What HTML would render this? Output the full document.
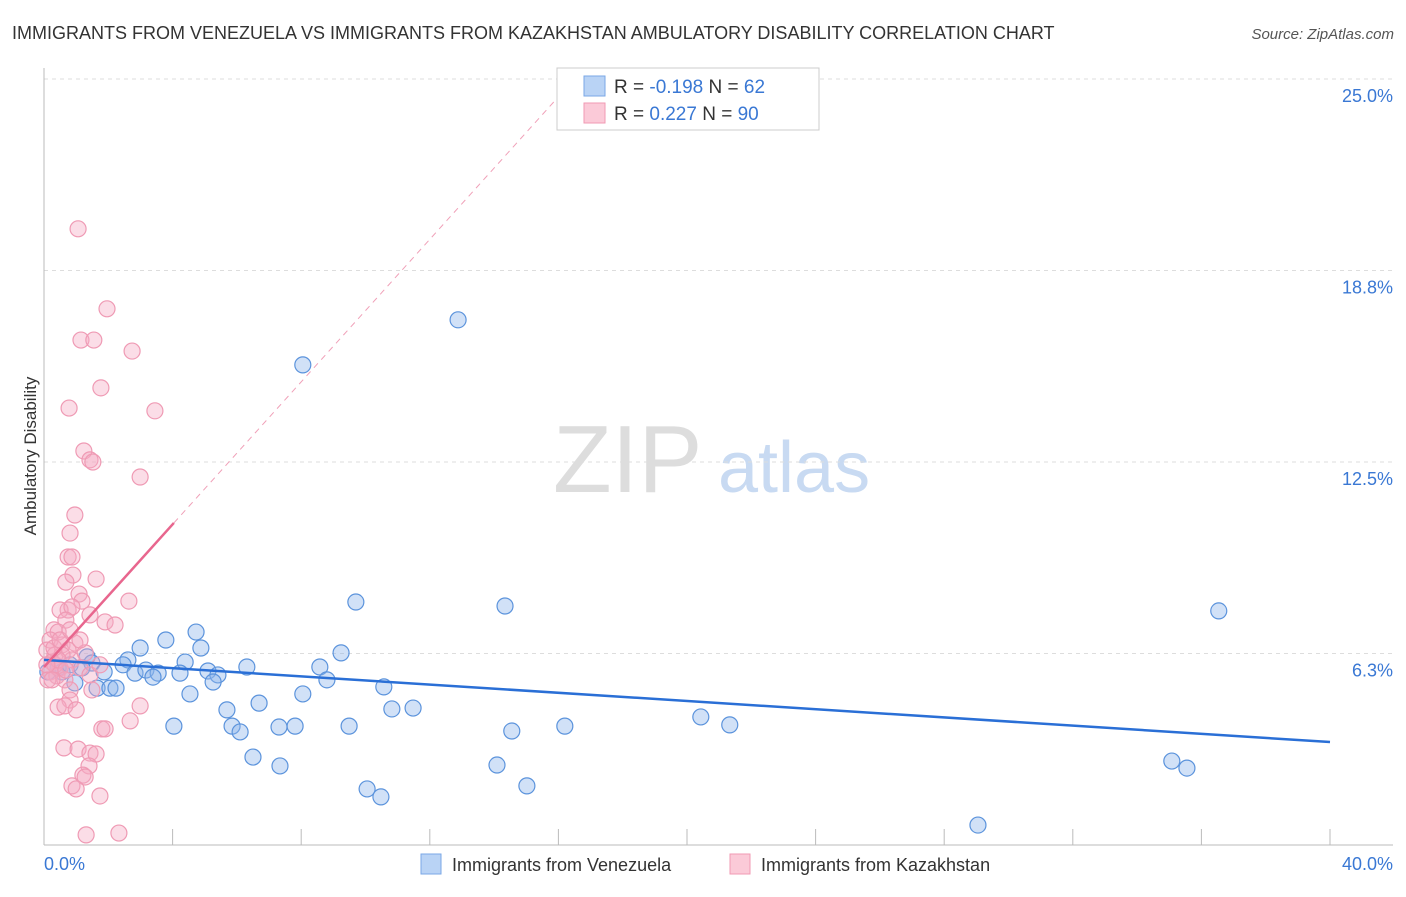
<!DOCTYPE html>
<html><head><meta charset="utf-8"><style>
body{margin:0;background:#fff;font-family:"Liberation Sans",sans-serif;}
svg text{font-family:"Liberation Sans",sans-serif;}
</style></head><body>
<svg id="chart" width="1406" height="892" xmlns="http://www.w3.org/2000/svg">
<text x="12" y="39" font-size="18" fill="#333">IMMIGRANTS FROM VENEZUELA VS IMMIGRANTS FROM KAZAKHSTAN AMBULATORY DISABILITY CORRELATION CHART</text>
<text x="1394" y="39" font-size="15" fill="#555" font-style="italic" text-anchor="end">Source: ZipAtlas.com</text>
<g>
<text x="553" y="492" font-size="96" fill="#ddd" font-family="Liberation Serif">ZIP</text>
<text x="718" y="492" font-size="72" fill="#c8daf2">atlas</text>
</g>
<g id="grid"></g>
<g id="axes"></g>
<g id="blue"></g>
<g id="pink"></g>
<g id="lines"></g>
<text x="36" y="456" font-size="17" fill="#333" text-anchor="middle" transform="rotate(-90 36 456)">Ambulatory Disability</text>
<text x="44" y="870" font-size="18" fill="#3a78d4">0.0%</text>
<text x="1393" y="870" font-size="18" fill="#3a78d4" text-anchor="end">40.0%</text>
<g>
<rect x="421" y="854" width="20" height="20" fill="#b9d3f5" stroke="#7aa7e6"/>
<text x="452" y="871" font-size="18" fill="#333">Immigrants from Venezuela</text>
<rect x="730" y="854" width="20" height="20" fill="#fbcad8" stroke="#f09ab3"/>
<text x="761" y="871" font-size="18" fill="#333">Immigrants from Kazakhstan</text>
</g>
<g>
<rect x="557" y="68" width="262" height="62" fill="#fff" stroke="#ccc"/>
<rect x="584" y="76" width="21" height="20" fill="#b9d3f5" stroke="#7aa7e6"/>
<text x="614" y="93" font-size="19" fill="#333">R = <tspan fill="#3a78d4">-0.198</tspan>   N = <tspan fill="#3a78d4">62</tspan></text>
<rect x="584" y="103" width="21" height="20" fill="#fbcad8" stroke="#f09ab3"/>
<text x="614" y="120" font-size="19" fill="#333">R =  <tspan fill="#3a78d4">0.227</tspan>   N = <tspan fill="#3a78d4">90</tspan></text>
</g>
</svg>
<script>
const yTicks=[25,18.75,12.5,6.25];
const yTickLabels=["25.0%","18.8%","12.5%","6.3%"];
const xTicks=[0,4,8,12,16,20,24,28,32,36,40];
const blueX=[12.88,8.05,9.70,14.34,36.54,3.79,4.73,2.99,4.88,9.24,2.61,1.34,1.49,2.46,4.39,6.31,8.58,1.87,2.83,3.17,3.55,3.39,4.23,5.10,5.41,5.26,8.80,0.96,1.65,2.05,2.24,4.54,8.05,10.57,6.69,5.69,10.82,11.48,4.04,5.85,6.10,7.31,7.81,9.49,14.55,16.20,20.43,21.33,6.50,7.34,14.09,15.02,10.05,10.48,35.08,35.55,29.05,0.44,0.56,0.81,1.18,0.12];
const blueY=[17.14,15.67,7.93,7.80,7.64,6.69,6.95,6.43,6.43,6.27,6.04,6.14,5.94,5.88,5.97,5.81,5.81,5.65,5.61,5.71,5.61,5.48,5.61,5.68,5.55,5.32,5.39,5.29,5.12,5.12,5.12,4.93,4.93,5.16,4.63,4.41,4.44,4.47,3.88,3.88,3.69,3.85,3.88,3.88,3.72,3.88,4.18,3.92,2.87,2.58,2.61,1.93,1.83,1.57,2.74,2.51,0.65,5.78,5.65,5.88,5.78,5.65];
const pinkX=[1.06,1.96,1.15,1.55,2.74,1.77,0.78,3.45,1.24,1.43,1.52,2.99,0.96,0.81,0.75,0.87,0.90,0.68,1.62,1.09,1.18,0.75,0.50,0.87,1.43,2.64,1.90,2.21,0.68,0.31,0.44,0.19,0.56,0.96,0.09,0.34,0.75,1.28,0.25,0.50,0.87,0.19,0.40,0.65,0.12,1.12,1.43,1.74,1.49,0.81,2.99,0.81,0.44,0.65,1.00,2.68,1.80,1.90,0.62,1.06,1.43,1.62,1.40,1.21,1.28,0.87,1.00,1.74,1.31,2.33,0.34,0.56,0.44,0.68,0.31,0.09,0.50,0.81,1.12,0.25];
const pinkY=[20.11,17.50,16.48,16.48,16.12,14.92,14.26,14.17,12.86,12.57,12.50,12.01,10.77,10.18,9.40,9.40,8.81,8.58,8.68,8.19,7.96,7.67,7.67,7.77,7.51,7.96,7.28,7.18,7.34,7.02,6.95,6.69,6.53,6.59,6.36,6.20,6.36,6.27,5.97,5.78,6.04,5.65,5.52,5.39,5.39,5.78,5.55,5.88,5.06,5.06,4.54,4.73,4.50,4.54,4.41,4.05,3.79,3.79,3.17,3.13,3.00,2.97,2.58,2.28,2.22,1.93,1.83,1.60,0.33,0.39,5.88,6.20,6.04,5.71,6.43,5.88,6.69,7.02,6.69,5.39];
const blueTrend=[[0,6.04],[40,3.36]];
const pinkTrendSolid=[[0,5.81],[4.04,10.51]];
const pinkTrendDash=[[4.04,10.51],[16.5,25]];
const NS="http://www.w3.org/2000/svg";
const X=v=>44+v/40*1286;
const Y=v=>845-v/6.25*191.5;
function mk(tag,attrs,parent){const e=document.createElementNS(NS,tag);for(const k in attrs)e.setAttribute(k,attrs[k]);document.getElementById(parent).appendChild(e);return e;}
yTicks.forEach((t,i)=>{
 const g=mk('line',{x1:44,x2:1393,y1:Y(t),y2:Y(t),stroke:'#ddd','stroke-dasharray':'4,4'},'grid');
 
 
 const tx=mk('text',{x:1393,y:Y(t)+23,'font-size':18,fill:'#3a78d4','text-anchor':'end'},'grid');
 tx.textContent=yTickLabels[i];
 
 
});
let a=mk('line',{x1:44,x2:44,y1:68,y2:845,stroke:'#bbb'},'axes');


a=mk('line',{x1:44,x2:1393,y1:845,y2:845,stroke:'#bbb'},'axes');


xTicks.forEach(t=>{
 const l=mk('line',{x1:X(t),x2:X(t),y1:829,y2:845,stroke:'#bbb'},'axes');
 
 
});
blueX.forEach((v,i)=>{
 const c=mk('circle',{cx:X(v),cy:Y(blueY[i]),r:8,fill:'rgba(140,180,236,0.4)',stroke:'#5b93dc','stroke-width':1.2},'blue');
 
 
});
pinkX.forEach((v,i)=>{
 const c=mk('circle',{cx:X(v),cy:Y(pinkY[i]),r:8,fill:'rgba(246,170,195,0.4)',stroke:'#ef9ab4','stroke-width':1.2},'pink');
 
 
});
let t=mk('line',{x1:X(blueTrend[0][0]),y1:Y(blueTrend[0][1]),x2:X(blueTrend[1][0]),y2:Y(blueTrend[1][1]),stroke:'#2a6fd6','stroke-width':2.5},'lines');


t=mk('line',{x1:X(pinkTrendSolid[0][0]),y1:Y(pinkTrendSolid[0][1]),x2:X(pinkTrendSolid[1][0]),y2:Y(pinkTrendSolid[1][1]),stroke:'#e8668e','stroke-width':2.5},'lines');


t=mk('line',{x1:X(pinkTrendDash[0][0]),y1:Y(pinkTrendDash[0][1]),x2:X(pinkTrendDash[1][0]),y2:Y(pinkTrendDash[1][1]),stroke:'#f0a0b8','stroke-width':1,'stroke-dasharray':'6,5'},'lines');


</script>
</body></html>
